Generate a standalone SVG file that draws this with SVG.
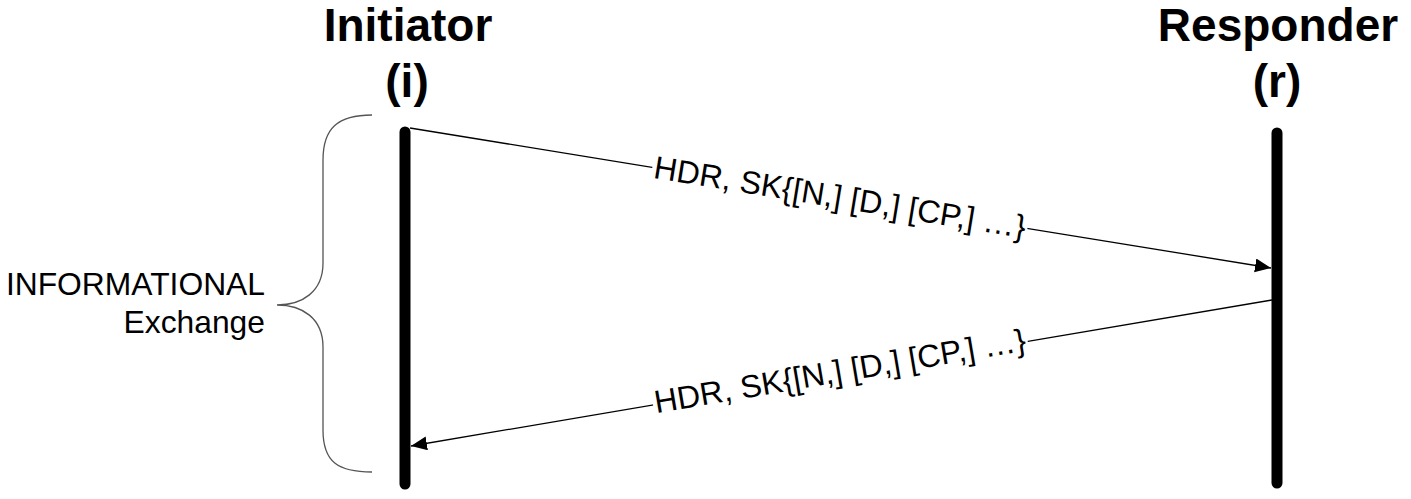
<svg xmlns="http://www.w3.org/2000/svg" width="1411" height="499" viewBox="0 0 1411 499">
<style>
.title{font-family:"Liberation Sans",Arial,sans-serif;font-weight:bold;font-size:46px;fill:#000;text-anchor:middle}
.label{font-family:"Liberation Sans",Arial,sans-serif;font-size:31.8px;fill:#000}
.msg{font-family:"Liberation Sans",Arial,sans-serif;font-size:32px;fill:#000;text-anchor:middle}
.life{stroke:#000;stroke-width:11;stroke-linecap:round;fill:none}
.arrow{stroke:#000;stroke-width:1.3;fill:none;marker-end:url(#ah)}
.brace{stroke:#555;stroke-width:1.3;fill:none}
</style>
<defs>
<marker id="ah" markerUnits="userSpaceOnUse" markerWidth="18" markerHeight="16" refX="16" refY="7" orient="auto">
<path d="M0,0 L16,7 L0,14 z" fill="#000"/>
</marker>
</defs>
<rect width="1411" height="499" fill="#fff"/>
<g id="initiator">
<text class="title" x="408" y="41">Initiator</text>
<text class="title" x="407" y="97">(i)</text>
<line class="life" x1="405" y1="132" x2="405" y2="484"/>
</g>
<g id="responder">
<text class="title" x="1278" y="41">Responder</text>
<text class="title" x="1277" y="97">(r)</text>
<line class="life" x1="1277" y1="133" x2="1277" y2="483"/>
</g>
<g id="exchange">
<path class="brace" d="M372,115 C338,115 323,128 323,160 L323,263 C323,292 302,305 277,305 C302,305 323,318 323,347 L323,430 C323,462 338,472 372,472"/>
<text class="label" x="265" y="295" text-anchor="end">INFORMATIONAL</text>
<text class="label" x="265" y="333" text-anchor="end">Exchange</text>
</g>
<g id="connectors">
<line class="arrow" x1="410" y1="128" x2="1271" y2="268"/>
<g transform="translate(840,197) rotate(9.23)">
<rect x="-190" y="-17" width="380" height="34" fill="#fff"/>
<text class="msg" x="0" y="11">HDR, SK{[N,] [D,] [CP,] …}</text>
</g>
<line class="arrow" x1="1272" y1="300" x2="411" y2="446"/>
<g transform="translate(840,371) rotate(-9.62)">
<rect x="-190" y="-17" width="380" height="34" fill="#fff"/>
<text class="msg" x="0" y="11">HDR, SK{[N,] [D,] [CP,] …}</text>
</g>
</g>
</svg>
